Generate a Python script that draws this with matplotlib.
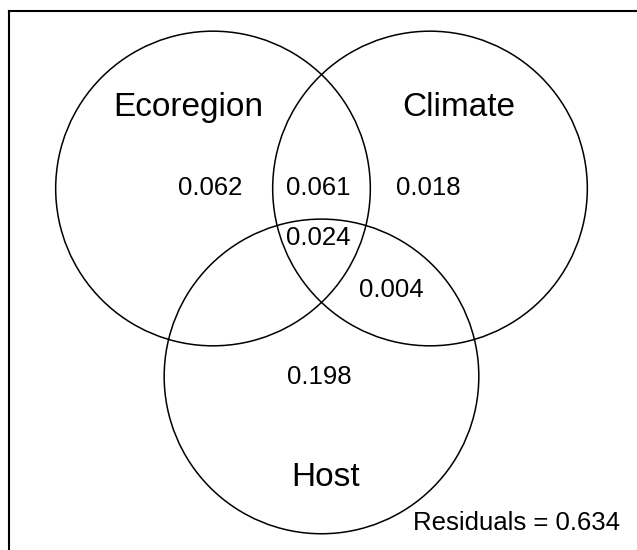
import numpy as np
import matplotlib.pyplot as plt
from matplotlib.patches import Circle

plt.rcParams['font.family'] = ['Liberation Sans', 'DejaVu Sans']

# variation partitioning (three explanatory tables)
set_names = ["Ecoregion", "Climate", "Host"]
fractions = [0.062, 0.061, 0.018, 0.024, 0.004, 0.198]
residuals = 0.634

# circle centres on an equilateral triangle, as in vegan::showvarparts
centres = np.array([[0.0, 0.0], [1.0, 0.0], [0.5, -np.sqrt(3) / 2]])
rad = 0.725

# label placement (same units as the circles)
name_pos = [(-0.115, 0.372), (1.132, 0.372), (0.518, -1.33)]
frac_pos = [(-0.014, 0.0), (0.484, 0.0), (0.99, 0.0),
            (0.486, -0.228), (0.823, -0.468), (0.488, -0.869)]

W, H = 637, 550
scale = 217.0            # pixels per unit
x0_px, y0_px = 213, 188.5  # pixel position of first centre

fig = plt.figure(figsize=(W / 100, H / 100), dpi=100)
# box: left at 9px, top at 11px, running off the right and bottom edges
left, top = 9, 11
ax = fig.add_axes([left / W, -0.01, 1 - left / W + 0.01, 1 - top / H + 0.01])
ax_w = (1 - left / W + 0.01) * W
ax_h = (1 - top / H + 0.01) * H
xl = (left - x0_px) / scale
yt = (y0_px - top) / scale
ax.set_xlim(xl, xl + ax_w / scale)
ax.set_ylim(yt - ax_h / scale, yt)
ax.set_xticks([])
ax.set_yticks([])
for s in ax.spines.values():
    s.set_linewidth(1.5)

for c in centres:
    ax.add_patch(Circle(c, rad, fill=False, lw=1.1, ec='black'))

for name, (x, y) in zip(set_names, name_pos):
    ax.text(x, y, name, fontsize=24, ha='center', va='center')

for f, (x, y) in zip(fractions, frac_pos):
    ax.text(x, y, "%.3f" % f, fontsize=18.5, ha='center', va='center')

ax.text((620 - x0_px) / scale, -(523 - y0_px) / scale,
        "Residuals = %.3f" % residuals, fontsize=18.5, ha='right', va='center')

plt.savefig("out.png", dpi=100)
